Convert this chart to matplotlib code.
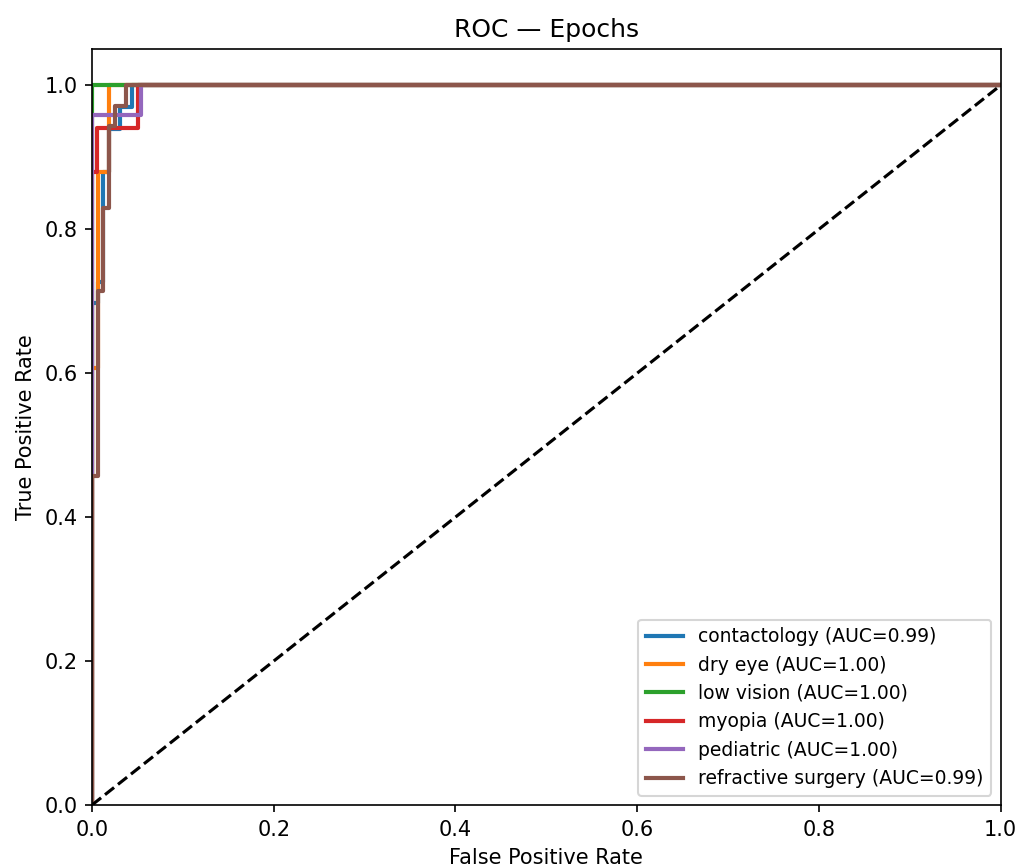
import matplotlib
matplotlib.use("Agg")
import matplotlib.pyplot as plt

labels = ["contactology", "dry eye", "low vision", "myopia", "pediatric", "refractive surgery"]
aucs = [0.99, 1.00, 1.00, 1.00, 1.00, 0.99]
colors = ["#1f77b4", "#ff7f0e", "#2ca02c", "#d62728", "#9467bd", "#8c564b"]

fpr_contactology = [0, 0, 0.00625, 0.00625, 0.0125, 0.0125, 0.01875, 0.01875, 0.03125, 0.03125, 0.04375, 0.04375, 1]
tpr_contactology = [0, 0.697, 0.697, 0.727, 0.727, 0.879, 0.879, 0.939, 0.939, 0.970, 0.970, 1, 1]

fpr_dry_eye = [0, 0, 0.00625, 0.00625, 0.01875, 0.01875, 1]
tpr_dry_eye = [0, 0.607, 0.607, 0.879, 0.879, 1, 1]

fpr_low_vision = [0, 0, 1]
tpr_low_vision = [0, 1, 1]

fpr_myopia = [0, 0, 0.0055, 0.0055, 0.0505, 0.0505, 1]
tpr_myopia = [0, 0.88, 0.88, 0.94, 0.94, 1, 1]

fpr_pediatric = [0, 0, 0.0535, 0.0535, 1]
tpr_pediatric = [0, 0.959, 0.959, 1, 1]

fpr_refractive = [0, 0, 0.00625, 0.00625, 0.0125, 0.0125, 0.01875, 0.01875, 0.025, 0.025, 0.0375, 0.0375, 1]
tpr_refractive = [0, 0.457, 0.457, 0.714, 0.714, 0.829, 0.829, 0.943, 0.943, 0.971, 0.971, 1, 1]

fprs = [fpr_contactology, fpr_dry_eye, fpr_low_vision, fpr_myopia, fpr_pediatric, fpr_refractive]
tprs = [tpr_contactology, tpr_dry_eye, tpr_low_vision, tpr_myopia, tpr_pediatric, tpr_refractive]

fig, ax = plt.subplots(figsize=(1019 / 150, 865 / 150), dpi=150)
fig.subplots_adjust(left=0.0903, right=0.982, bottom=0.0694, top=0.943)

for f, t, lab, a, c in zip(fprs, tprs, labels, aucs, colors):
    ax.plot(f, t, color=c, lw=2, label=f"{lab} (AUC={a:.2f})")
ax.plot([0, 1], [0, 1], "k--", lw=1.5)

ax.set_xlim(0, 1)
ax.set_ylim(0, 1.05)
ax.set_xlabel("False Positive Rate")
ax.set_ylabel("True Positive Rate")
ax.set_title("ROC — Epochs")
ax.legend(loc="lower right", fontsize=9)

fig.savefig("out.png", dpi=150)
